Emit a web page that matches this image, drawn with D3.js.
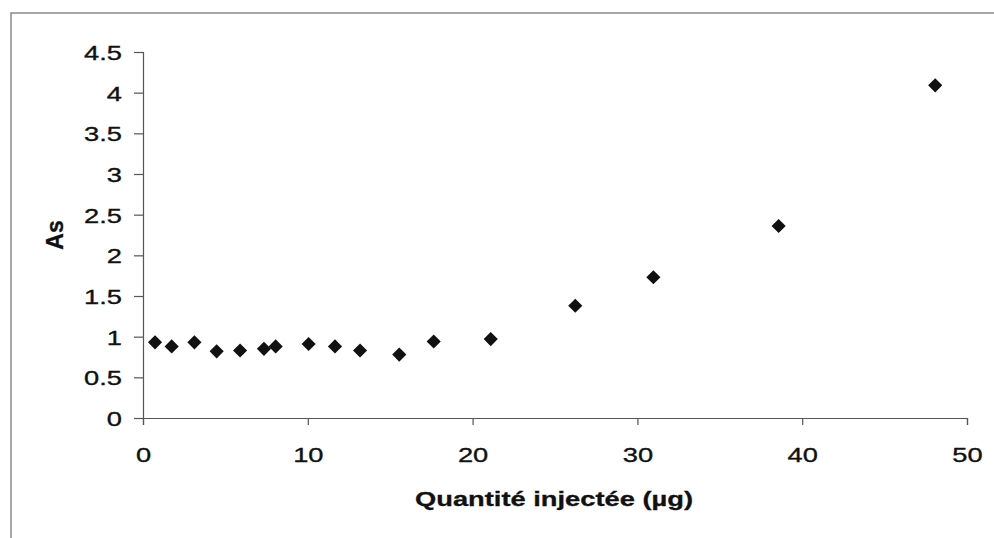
<!DOCTYPE html>
<html>
<head>
<meta charset="utf-8">
<script src="https://cdn.jsdelivr.net/npm/d3@7"></script>
<style>
  html, body { margin: 0; padding: 0; background: #fff; }
  svg { display: block; }
  text { font-family: "Liberation Sans", Arial, Helvetica, sans-serif; fill: #111; }
</style>
</head>
<body>
<svg id="chart" width="994" height="538"></svg>
<script>
// Data
const quantite = [0.73, 1.74, 3.12, 4.47, 5.89, 7.34, 8.05, 10.05, 11.65, 13.17, 15.55, 17.64, 21.1, 26.23, 30.97, 38.57, 48.07];
const asValues = [0.93, 0.88, 0.93, 0.82, 0.83, 0.85, 0.88, 0.91, 0.88, 0.83, 0.78, 0.94, 0.97, 1.38, 1.73, 2.36, 4.09];
const xTicks = [0, 10, 20, 30, 40, 50];
const yTicks = [0, 0.5, 1, 1.5, 2, 2.5, 3, 3.5, 4, 4.5];
const xTitle = "Quantité injectée (µg)";
const yTitle = "As";

const svg = d3.select("#chart");
const SX = 1.3; // horizontal stretch of the scanned lettering

// outer frame (top and left edges visible)
svg.append("path")
  .attr("d", "M11,538 L11,13 L994,13")
  .attr("fill", "none")
  .attr("stroke", "#8a8a8a")
  .attr("stroke-width", 1.5);

const x = d3.scaleLinear().domain([0, 50]).range([143, 967]);
const y = d3.scaleLinear().domain([0, 4.5]).range([418, 52]);

// Y axis
const yAxis = svg.append("g")
  .attr("transform", "translate(143,0)")
  .call(d3.axisLeft(y).tickValues(yTicks).tickSize(9).tickPadding(0)
    .tickFormat(d => String(d)));
yAxis.select(".domain").attr("stroke", "#555").attr("stroke-width", 1.2);
yAxis.selectAll(".tick line").attr("stroke", "#555").attr("stroke-width", 1.2);
yAxis.selectAll(".tick text")
  .attr("x", -21 / SX)
  .attr("dy", "0.36em")
  .attr("transform", `scale(${SX},1)`)
  .style("font-size", "21px")
  .style("fill", "#111")
  .style("stroke", "#111")
  .style("stroke-width", "0.35px");

// X axis
const xAxis = svg.append("g")
  .attr("transform", "translate(0,418)")
  .call(d3.axisBottom(x).tickValues(xTicks).tickSize(7).tickPadding(0)
    .tickFormat(d => String(d)));
xAxis.select(".domain").attr("stroke", "#555").attr("stroke-width", 1.2);
xAxis.selectAll(".tick line").attr("stroke", "#555").attr("stroke-width", 1.2);
xAxis.selectAll(".tick text")
  .attr("y", 44)
  .attr("dy", 0)
  .attr("transform", `scale(${SX},1)`)
  .style("font-size", "21px")
  .style("fill", "#111")
  .style("stroke", "#111")
  .style("stroke-width", "0.35px");

// Axis titles
svg.append("text")
  .attr("transform", `translate(554,506) scale(${SX},1)`)
  .attr("text-anchor", "middle")
  .style("font-size", "21px")
  .style("font-weight", "bold")
  .style("stroke", "#111")
  .style("stroke-width", "0.3px")
  .text(xTitle);

svg.append("text")
  .attr("transform", "translate(63,235) rotate(-90)")
  .attr("text-anchor", "middle")
  .style("font-size", "23px")
  .style("font-weight", "bold")
  .style("stroke", "#111")
  .style("stroke-width", "0.3px")
  .text(yTitle);

// Points: diamonds
const pts = quantite.map((q, i) => ({ q, a: asValues[i] }));
const sym = d3.symbol().type(d3.symbolSquare).size(100);
svg.append("g").selectAll("path")
  .data(pts)
  .join("path")
  .attr("d", sym)
  .attr("transform", d => `translate(${x(d.q)},${y(d.a)}) rotate(45)`)
  .attr("fill", "#111");
</script>
</body>
</html>
